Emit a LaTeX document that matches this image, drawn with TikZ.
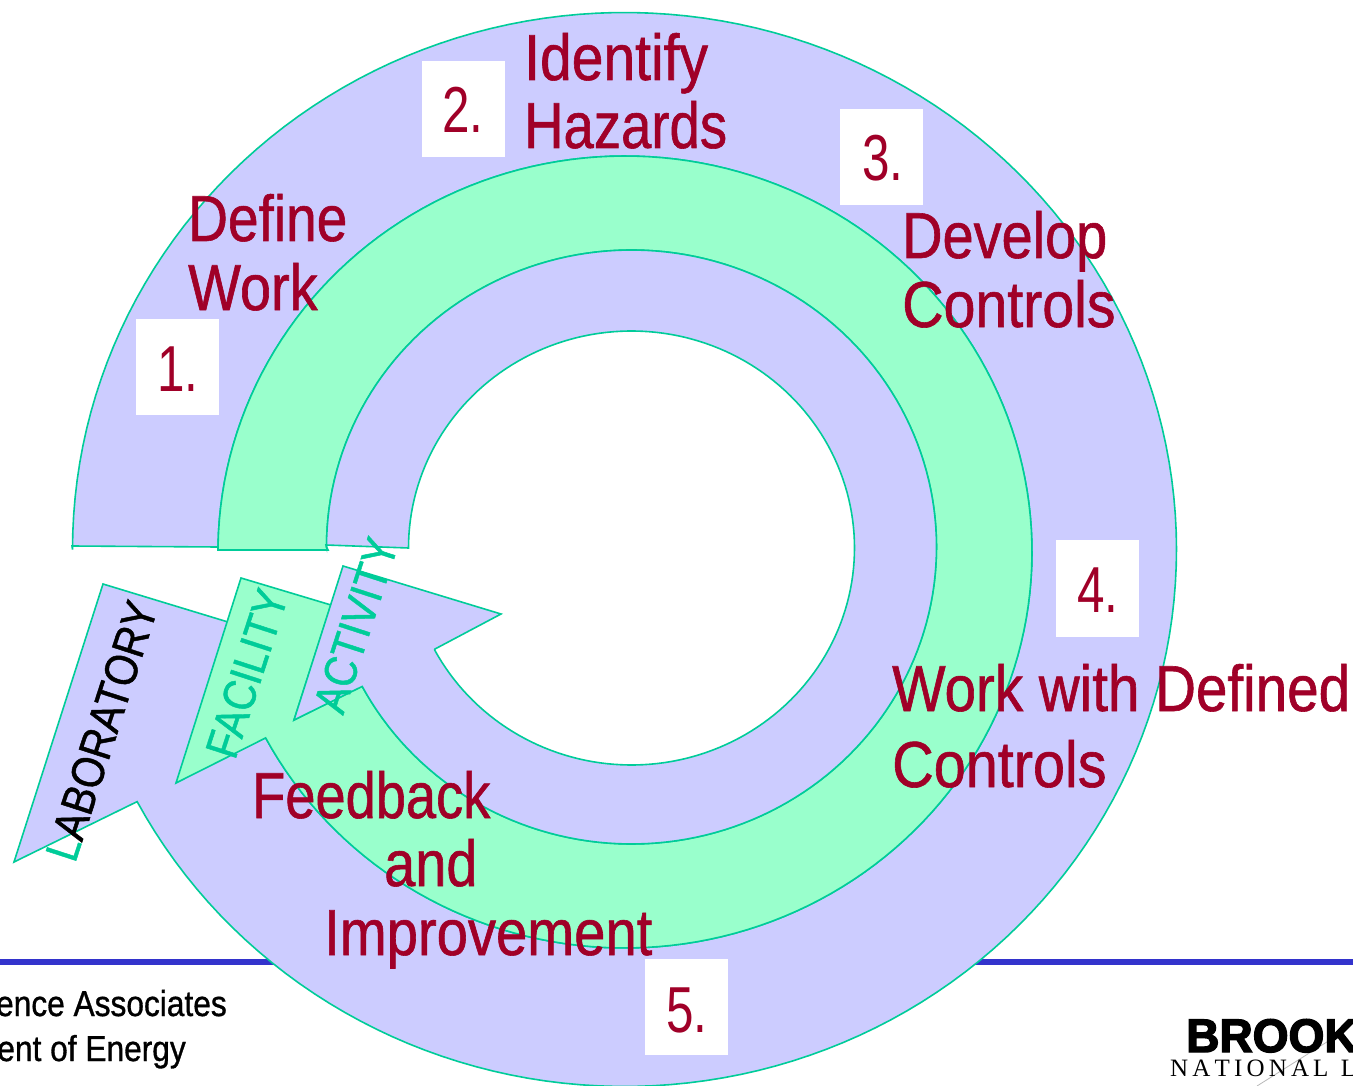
\documentclass[tikz,border=0pt]{standalone}
\usepackage{fontspec}
\setmainfont{Liberation Sans}
\newfontfamily\narrowfont[FakeStretch=0.86,FakeBold=0.9]{Liberation Sans}
\newfontfamily\digitfont[FakeStretch=0.76]{Liberation Sans}
\newfontfamily\labelfont[FakeStretch=0.87,FakeBold=1]{Liberation Sans}
\newfontfamily\footfont[FakeStretch=0.88,FakeBold=0.9]{Liberation Sans}
\newfontfamily\logofont[FakeStretch=0.98,FakeBold=3]{Liberation Sans Bold}
\newfontfamily\logoserif{Liberation Serif}
\newcommand{\sx}[2]{\scalebox{#1}[1]{#2}}
\definecolor{bandblue}{HTML}{CCCCFF}
\definecolor{bandgreen}{HTML}{99FFCC}
\definecolor{edgegreen}{HTML}{00CC99}
\definecolor{wine}{HTML}{A00028}
\definecolor{rulebar}{HTML}{3333CC}
\tikzset{
  x=1pt,y=-1pt,
  blueband/.style={fill=bandblue,draw=edgegreen,line width=1.6pt,line join=miter},
  greenband/.style={fill=bandgreen,draw=edgegreen,line width=1.6pt,line join=miter},
  numbox/.style={fill=white,draw=none},
  stepnum/.style={anchor=base west,inner sep=0pt,text=wine,font=\digitfont\fontsize{65}{65}\selectfont},
  steptext/.style={anchor=base west,inner sep=0pt,text=wine,font=\narrowfont\fontsize{65}{65}\selectfont},
  ringtext/.style={anchor=base west,inner sep=0pt,rotate=72,font=\labelfont\fontsize{46}{46}\selectfont},
  foot/.style={anchor=base east,inner sep=0pt,text=black,font=\footfont\fontsize{36}{36}\selectfont},
}
\begin{document}
\begin{tikzpicture}
\useasboundingbox (0,0) rectangle (1353,1086);
\clip (0,0) rectangle (1353,1086);
\fill[white] (0,0) rectangle (1353,1086);
% footer
\fill[rulebar] (0,959) rectangle (1353,965);
\node[foot] (footA) at (227,1016) {ence Associates};
\node[foot] (footB) at (186,1061) {ent of Energy};
\draw[gray!55,line width=0.8pt] (1257,1086) -- (1330,1040);
\node[anchor=base west,inner sep=0pt,font=\logofont\fontsize{47}{47}\selectfont] (logoA) at (1186,1052) {BROOK};
\node[anchor=base west,inner sep=0pt,font=\logoserif\fontsize{25}{25}\selectfont] (logoB) at (1170,1076) {N\,A\,T\,I\,O\,N\,A\,L\ \ L};
% outer band
\path[blueband] (72,546)
  -- plot[domain=180:512,samples=180] ({624.5+552*cos(\x)},{549.5+537*sin(\x)})
  -- (14,862) -- (103,584) -- (228,622) -- (265,738)
  -- plot[domain=512:181,samples=180] ({625+407*cos(\x)},{552+396*sin(\x)})
  -- (218,547) -- cycle;
% middle band (green)
\path[greenband] (218,550)
  -- plot[domain=181:512,samples=180] ({625+407*cos(\x)},{552+396*sin(\x)})
  -- (176,783) -- (241,578) -- (331,605) -- (294,720) -- (362,686)
  -- plot[domain=512:180,samples=180] ({631.5+305*cos(\x)},{547+297*sin(\x)})
  -- (328,550) -- cycle;
% inner band (blue)
\path[blueband] (326,545)
  -- plot[domain=180:512,samples=180] ({631.5+305*cos(\x)},{547+297*sin(\x)})
  -- (294,720) -- (343,566) -- (501,614) -- (435,649)
  -- plot[domain=512:180,samples=180] ({631.5+223*cos(\x)},{548+217*sin(\x)})
  -- cycle;
% number boxes
\fill[numbox] (136,319) rectangle (219,415);
\fill[numbox] (422,61) rectangle (505,157);
\fill[numbox] (840,109) rectangle (923,205);
\fill[numbox] (1056,540) rectangle (1139,637);
\fill[numbox] (645,959) rectangle (728,1055);
\node[stepnum] (n1) at (157,391) {1.};
\node[stepnum] (n2) at (442,133) {2.};
\node[stepnum] (n3) at (862,181) {3.};
\node[stepnum] (n4) at (1077,612) {4.};
\node[stepnum] (n5) at (666,1032) {5.};
% step captions
\node[steptext] (t1a) at (188,241) {\sx{.985}{Define}};
\node[steptext] (t1b) at (188,310) {Work};
\node[steptext] (t2a) at (524,80) {\sx{1.02}{Identify}};
\node[steptext] (t2b) at (524,148) {\sx{.975}{Hazards}};
\node[steptext] (t3a) at (902,258) {Develop};
\node[steptext] (t3b) at (902,327) {\sx{1.025}{Controls}};
\node[steptext] (t4a) at (892,711) {\sx{1.012}{Work with Defined}};
\node[steptext] (t4b) at (892,787) {\sx{1.03}{Controls}};
\node[steptext] (t5a) at (252,818) {\sx{.97}{Feedback}};
\node[steptext] (t5b) at (384,886) {and};
\node[steptext] (t5c) at (324,955) {\sx{1.006}{Improvement}};
% ring labels
\node[ringtext,text=black] (lab) at (75,864) {{\color{edgegreen}L}ABORATORY};
\node[ringtext,text=edgegreen] (fac) at (235,761) {FACILITY};
\node[ringtext,text=edgegreen] (act) at (343,716) {ACTIVITY};
\end{tikzpicture}
\end{document}
